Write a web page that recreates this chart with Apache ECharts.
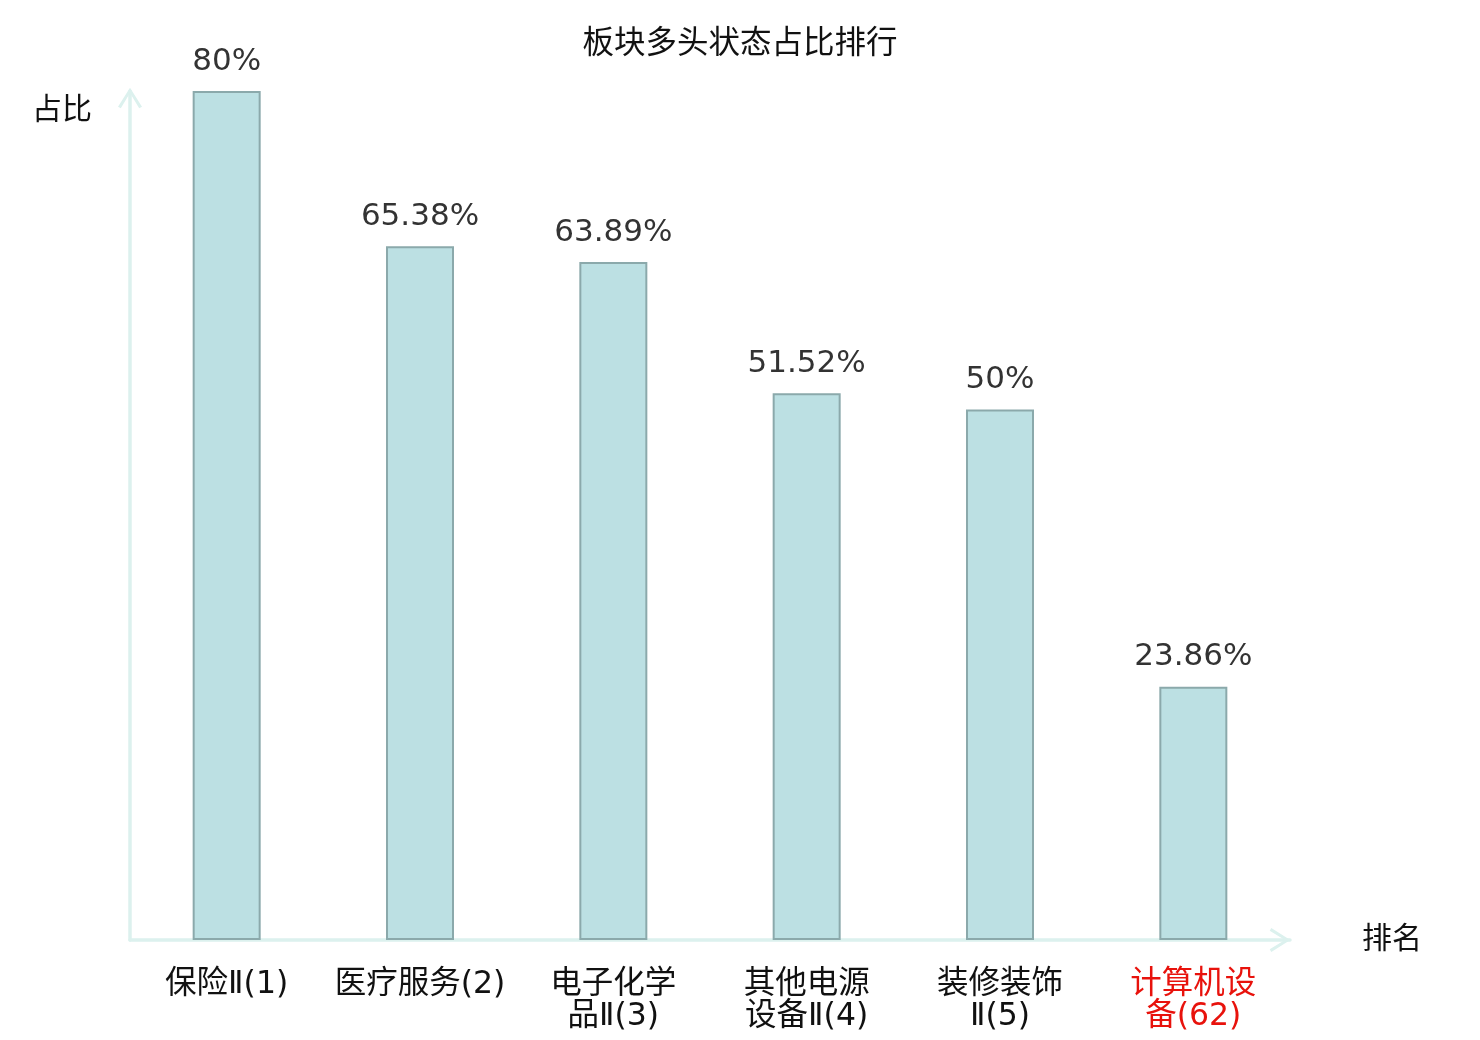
<!DOCTYPE html>
<html>
<head>
<meta charset="utf-8">
<script src="https://cdn.jsdelivr.net/npm/echarts@6/dist/echarts.min.js"></script>
<style>html,body{margin:0;padding:0;background:#fff;}#c{width:1480px;height:1040px;}</style>
</head>
<body>
<div id="c"></div>
<script>
const categories = ['保险Ⅱ(1)', '医疗服务(2)', '电子化学品Ⅱ(3)', '其他电源设备Ⅱ(4)', '装修装饰Ⅱ(5)', '计算机设备(62)'];
const values = [80, 65.38, 63.89, 51.52, 50, 23.86];
const highlightIndex = 5;
const titleText = '板块多头状态占比排行';
const yName = '占比';
const xName = '排名';

const chevron = 'path://M0,19 L12,0 L24,19 L21.2,20.6 L12,5.4 L2.8,20.6 Z';
const axisColor = '#DCF1EE';
const fam = '"DejaVu Sans", "Noto Sans CJK SC", sans-serif';

const chart = echarts.init(document.getElementById('c'));
chart.setOption({
  animation: false,
  backgroundColor: '#fff',
  textStyle: { fontFamily: fam },
  title: {
    text: titleText,
    left: 'center',
    top: 24,
    textStyle: { fontSize: 31.5, fontWeight: 'normal', color: '#111', fontFamily: fam }
  },
  grid: { left: 130, right: 190, top: 91, bottom: 100 },
  xAxis: {
    type: 'category',
    data: categories,
    name: xName,
    nameGap: 72,
    nameTextStyle: { fontSize: 30, color: '#111', verticalAlign: 'middle', fontFamily: fam },
    axisLine: {
      show: true,
      lineStyle: { color: axisColor, width: 3.5 },
      symbol: ['none', chevron],
      symbolSize: [24, 20.6],
      symbolOffset: [0, -10]
    },
    axisTick: { show: false },
    axisLabel: {
      interval: 0,
      fontSize: 31.5,
      lineHeight: 32,
      margin: 29,
      fontFamily: fam,
      color: function (v, i) { return i === highlightIndex ? '#E8120C' : '#111'; },
      formatter: function (v) {
        if (v.length > 7) { return v.slice(0, 4) + '\n' + v.slice(4); }
        return v;
      }
    }
  },
  yAxis: {
    type: 'value',
    min: 0,
    max: 80,
    name: yName,
    nameLocation: 'end',
    nameGap: -20,
    nameTextStyle: { fontSize: 30, color: '#111', align: 'right', verticalAlign: 'middle', padding: [0, 38, 0, 0], fontFamily: fam },
    axisLine: {
      show: true,
      lineStyle: { color: axisColor, width: 3.5 },
      symbol: ['none', chevron],
      symbolSize: [24, 20.6],
      symbolOffset: [0, -7]
    },
    axisTick: { show: false },
    axisLabel: { show: false },
    splitLine: { show: false }
  },
  series: [{
    type: 'bar',
    data: values,
    barWidth: 68,
    itemStyle: { color: '#BCE0E3', borderColor: '#8BA9AB', borderWidth: 2 },
    label: {
      show: true,
      position: 'top',
      distance: 14,
      fontSize: 31,
      fontFamily: fam,
      color: '#333',
      formatter: function (p) { return p.value + '%'; }
    }
  }]
});
</script>
</body>
</html>
